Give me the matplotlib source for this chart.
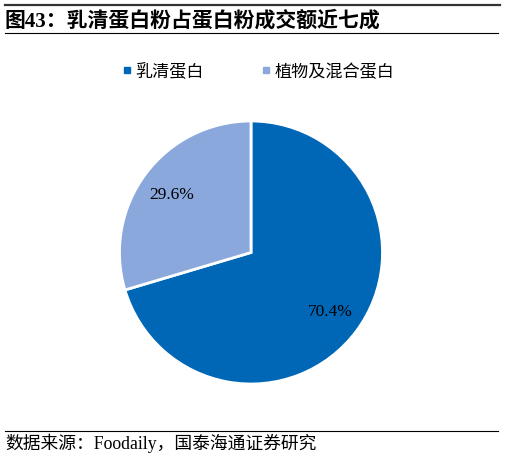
import matplotlib
matplotlib.use("Agg")
import matplotlib.pyplot as plt
from matplotlib.lines import Line2D

categories = ["乳清蛋白", "植物及混合蛋白"]
values = [70.4, 29.6]
colors = ["#0067B6", "#8AA8DC"]
title = "图43：乳清蛋白粉占蛋白粉成交额近七成"
source = "数据来源：Foodaily，国泰海通证券研究"

W, H = 506, 460
fig = plt.figure(figsize=(W / 100, H / 100), dpi=100)
fam = ["Liberation Serif", "Noto Sans CJK SC", "DejaVu Sans"]

def fx(px):
    return px / W

def fy(py):
    return 1 - py / H

# pie axes: center (251, 253.5), radius 131.5 px
cx, cy, r = 251, 253.5, 131.5
ax = fig.add_axes([fx(cx - r), fy(cy + r), 2 * r / W, 2 * r / H])
wedges, texts, autotexts = ax.pie(
    values, colors=colors, startangle=90, counterclock=False,
    autopct="%.1f%%", pctdistance=0.75, radius=1,
    wedgeprops=dict(edgecolor="white", linewidth=2),
    textprops=dict(family=fam, fontsize=12.5, color="black"),
)
ax.set_xlim(-1, 1)
ax.set_ylim(-1, 1)
ax.set_aspect("equal")
ax.axis("off")

# legend
handles = [Line2D([], [], marker="s", linestyle="none", markersize=4,
                  markerfacecolor=c, markeredgecolor=c) for c in colors]
fig.legend(handles, categories, loc="center", bbox_to_anchor=(fx(258.5), fy(73)),
           ncol=2, frameon=False, handlelength=0.5, handletextpad=0.25,
           columnspacing=3.4, prop=dict(family=fam, size=12.3))

# rules
fig.add_artist(Line2D([fx(5), fx(500)], [fy(5.5), fy(5.5)], color="#333333", lw=1.6,
                      transform=fig.transFigure))
fig.add_artist(Line2D([fx(5), fx(498)], [fy(34), fy(34)], color="black", lw=0.8,
                      transform=fig.transFigure))
fig.add_artist(Line2D([fx(5), fx(498)], [fy(432), fy(432)], color="black", lw=0.8,
                      transform=fig.transFigure))

fig.text(fx(5), fy(21), title, family=fam, fontsize=15, fontweight="bold",
         ha="left", va="center")
fig.text(fx(5), fy(443), source, family=fam, fontsize=12.8, ha="left", va="center")

fig.savefig("out.png", dpi=100)
